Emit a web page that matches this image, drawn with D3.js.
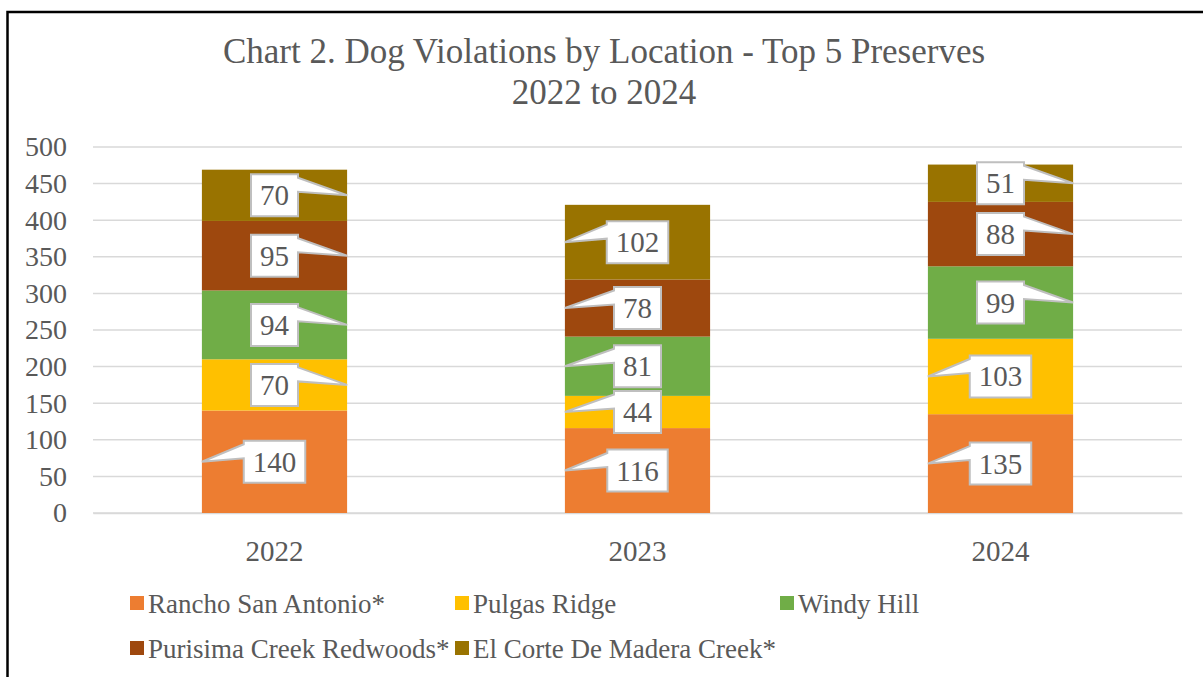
<!DOCTYPE html>
<html>
<head>
<meta charset="utf-8">
<script src="https://cdn.jsdelivr.net/npm/d3@7"></script>
<style>
  body { margin: 0; background: #fff; }
  svg { display: block; font-family: "Liberation Serif", "Times New Roman", serif; }
</style>
</head>
<body>
<div id="chart"></div>
<script>
// Data
const years = ["2022", "2023", "2024"];
const seriesNames = ["Rancho San Antonio*", "Pulgas Ridge", "Windy Hill", "Purisima Creek Redwoods*", "El Corte De Madera Creek*"];
const rancho = [140, 116, 135];
const pulgas = [70, 44, 103];
const windy = [94, 81, 99];
const purisima = [95, 78, 88];
const elCorte = [70, 102, 51];
const yTicks = [0, 50, 100, 150, 200, 250, 300, 350, 400, 450, 500];
const colors = ["#ED7D31", "#FFC000", "#70AD47", "#9E480E", "#997300"];
// which side of the bar the callout tail points to (per series, per year)
const calloutSide = [
    ["L", "L", "L"],
    ["R", "L", "L"],
    ["R", "L", "R"],
    ["R", "L", "R"],
    ["R", "L", "R"]
];

const width = 1203, height = 677;
const margin = { top: 147, right: 21, bottom: 164, left: 93 };
const textColor = "#595959";

const svg = d3.select("#chart")
    .append("svg")
    .attr("width", width)
    .attr("height", height);

// chart border (runs off the right and bottom of the picture)
svg.append("rect")
    .attr("x", 7.5)
    .attr("y", 12)
    .attr("width", 1400)
    .attr("height", 1000)
    .attr("fill", "none")
    .attr("stroke", "#000")
    .attr("stroke-width", 2.5);

// Title
const title = svg.append("text")
    .attr("x", 604)
    .attr("text-anchor", "middle")
    .attr("fill", textColor)
    .style("font-size", "35px");
title.append("tspan").attr("x", 604).attr("y", 63).text("Chart 2. Dog Violations by Location - Top 5 Preserves");
title.append("tspan").attr("x", 604).attr("y", 104).text("2022 to 2024");

// Scales
const xScale = d3.scaleBand()
    .domain(years)
    .range([margin.left, width - margin.right])
    .paddingInner(0.6)
    .paddingOuter(0.3);

const yScale = d3.scaleLinear()
    .domain([0, 500])
    .range([height - margin.bottom, margin.top]);

// Gridlines
svg.append("g")
    .selectAll("line")
    .data(yTicks)
    .join("line")
    .attr("x1", margin.left)
    .attr("x2", width - margin.right)
    .attr("y1", d => yScale(d))
    .attr("y2", d => yScale(d))
    .attr("stroke", "#d9d9d9")
    .attr("stroke-width", 1.5);

// Y axis
const yAxis = d3.axisLeft(yScale).tickValues(yTicks).tickSize(0).tickPadding(26);
const yG = svg.append("g")
    .attr("transform", `translate(${margin.left},0)`)
    .call(yAxis);
yG.select(".domain").remove();
yG.selectAll("text")
    .attr("fill", textColor)
    .style("font-size", "28px")
    .style("font-family", "Liberation Serif");

// X axis
const xAxis = d3.axisBottom(xScale).tickSize(0).tickPadding(27);
const xG = svg.append("g")
    .attr("transform", `translate(0,${height - margin.bottom})`)
    .call(xAxis);
xG.select(".domain")
    .attr("stroke", "#d9d9d9")
    .attr("stroke-width", 1.5);
xG.selectAll("text")
    .attr("fill", textColor)
    .style("font-size", "29px")
    .style("font-family", "Liberation Serif");

// Stack
const table = years.map((y, i) => ({
    year: y,
    s0: rancho[i], s1: pulgas[i], s2: windy[i], s3: purisima[i], s4: elCorte[i]
}));
const keys = ["s0", "s1", "s2", "s3", "s4"];
const stacked = d3.stack().keys(keys)(table);

const layers = svg.append("g")
    .selectAll("g")
    .data(stacked)
    .join("g")
    .attr("fill", (d, i) => colors[i]);

layers.selectAll("rect")
    .data(d => d)
    .join("rect")
    .attr("x", d => xScale(d.data.year))
    .attr("width", xScale.bandwidth())
    .attr("y", d => yScale(d[1]))
    .attr("height", d => yScale(d[0]) - yScale(d[1]));

// Callout labels
const boxH = 42;
const labels = svg.append("g");
stacked.forEach((layer, si) => {
    layer.forEach((d, yi) => {
        const value = d[1] - d[0];
        const x0b = xScale(d.data.year);
        const cx = x0b + xScale.bandwidth() / 2;
        const cy = (yScale(d[0]) + yScale(d[1])) / 2;
        const side = calloutSide[si][yi];
        const g = labels.append("g");
        const path = g.append("path")
            .attr("fill", "#fff")
            .attr("stroke", "#bfbfbf")
            .attr("stroke-width", 2)
            .attr("stroke-linejoin", "miter");
        const t = g.append("text")
            .attr("x", cx)
            .attr("y", cy + 10)
            .attr("text-anchor", "middle")
            .attr("fill", textColor)
            .style("font-size", "29px")
            .text(value);
        const w = t.node().getComputedTextLength() + 18;
        const bx0 = cx - w / 2, bx1 = cx + w / 2;
        const by0 = cy - boxH / 2, by1 = cy + boxH / 2;
        const ya = by0 + boxH / 12, yb = by0 + boxH * 5 / 12;
        let dPath;
        if (side === "R") {
            const tx = x0b + xScale.bandwidth();
            dPath = `M${bx0},${by0}H${bx1}V${ya}L${tx},${cy}L${bx1},${yb}V${by1}H${bx0}Z`;
        } else {
            const tx = x0b;
            dPath = `M${bx0},${by0}H${bx1}V${by1}H${bx0}V${yb}L${tx},${cy}L${bx0},${ya}Z`;
        }
        path.attr("d", dPath);
    });
});

// Legend
const legendCols = [130, 455, 780];
const legendRows = [603, 648];
const legend = svg.append("g")
    .selectAll("g")
    .data(seriesNames)
    .join("g")
    .attr("transform", (d, i) => `translate(${legendCols[i % 3]},${legendRows[Math.floor(i / 3)]})`);

legend.append("rect")
    .attr("x", 0)
    .attr("y", -7)
    .attr("width", 14)
    .attr("height", 14)
    .attr("fill", (d, i) => colors[i]);

legend.append("text")
    .attr("x", 18)
    .attr("y", 10)
    .attr("fill", textColor)
    .style("font-size", "27px")
    .text(d => d);
</script>
</body>
</html>
